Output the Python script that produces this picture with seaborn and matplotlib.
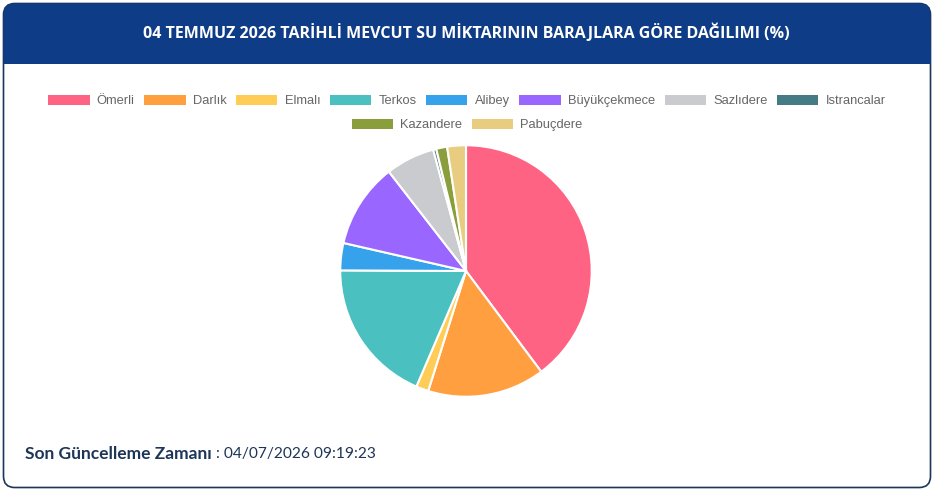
import matplotlib
matplotlib.use("Agg")
import matplotlib.pyplot as plt
import seaborn as sns
from matplotlib.patches import FancyBboxPatch, Rectangle, Patch

# dam shares (%), clockwise from 12 o'clock
dams = ["Ömerli", "Darlık", "Elmalı", "Terkos", "Alibey", "Büyükçekmece",
        "Sazlıdere", "Istrancalar", "Kazandere", "Pabuçdere"]
shares = [39.75, 15.06, 1.6, 18.6, 3.5, 10.9, 6.3, 0.4, 1.4, 2.4]
colors = ["#FF6384", "#FF9F40", "#FFCD56", "#4BC0C0", "#36A2EB", "#9966FF",
          "#C9CBCF", "#457B85", "#8B9E3C", "#E8CD80"]

title = "04 TEMMUZ 2026 TARİHLİ MEVCUT SU MİKTARININ BARAJLARA GÖRE DAĞILIMI (%)"
footer_bold = "Son Güncelleme Zamanı"
footer_rest = " : 04/07/2026 09:19:23"

sns.set_theme(style="white")
plt.rcParams['font.family'] = ['Liberation Sans', 'DejaVu Sans']

W, H = 934, 491
fig = plt.figure(figsize=(W / 100, H / 100), dpi=100)
fig.patch.set_facecolor("white")

navy = "#0F3C86"
ink = "#1d3557"

# card outline (behind everything)
card = FancyBboxPatch((3.5 / W, 3.5 / H), (W - 7) / W, (H - 7) / H,
                      boxstyle="round,pad=0,rounding_size=0.012",
                      transform=fig.transFigure, facecolor="white",
                      edgecolor=ink, linewidth=1.2, mutation_aspect=W / H,
                      zorder=-5)
fig.patches.append(card)

# header band
hdr = FancyBboxPatch((3.5 / W, (H - 64) / H), (W - 7) / W, 60.5 / H,
                     boxstyle="round,pad=0,rounding_size=0.012",
                     transform=fig.transFigure, facecolor=navy,
                     edgecolor="none", mutation_aspect=W / H, zorder=-4)
fig.patches.append(hdr)
fig.patches.append(Rectangle((3.5 / W, (H - 64) / H), (W - 7) / W, 20 / H,
                             transform=fig.transFigure, facecolor=navy,
                             edgecolor="none", zorder=-4))

fig.text(466 / W, 1 - 33 / H, title, color="white", fontsize=11.5,
         fontweight="bold", ha="center", va="center",
         family=["Open Sans", "DejaVu Sans"])

# pie
R = 127
ax = fig.add_axes([(466 - R) / W, (H - 271 - R) / H, 2 * R / W, 2 * R / H])
ax.pie(shares, colors=colors, startangle=90, counterclock=False,
       wedgeprops=dict(edgecolor="white", linewidth=1.5))
ax.set_xlim(-1.01, 1.01)
ax.set_ylim(-1.01, 1.01)
ax.set_aspect("equal")
ax.axis("off")

# legend, Chart.js style: centered rows
handles = [Patch(facecolor=c, edgecolor="none") for c in colors]
leg_kw = dict(frameon=False, fontsize=9.3, handlelength=3.2, handleheight=0.85,
              handletextpad=0.55, columnspacing=0.75, labelcolor="#666666",
              borderaxespad=0, borderpad=0)
fig.legend(handles[:8], dams[:8], ncol=8, loc="center",
           bbox_to_anchor=(467 / W, 1 - 101 / H), **leg_kw)
fig.legend(handles[8:], dams[8:], ncol=2, loc="center",
           bbox_to_anchor=(467 / W, 1 - 125 / H), **leg_kw)

# footer
t1 = fig.text(25 / W, 1 - 454 / H, footer_bold, color=ink, fontsize=12.5,
              fontweight="bold", ha="left", va="center",
              family=["Lato", "DejaVu Sans"])
ax.annotate(footer_rest, xy=(1, 0.5), xycoords=t1, va="center", ha="left",
            color=ink, fontsize=11.2, family=["Lato", "DejaVu Sans"],
            annotation_clip=False)

fig.savefig("out.png", dpi=100)
